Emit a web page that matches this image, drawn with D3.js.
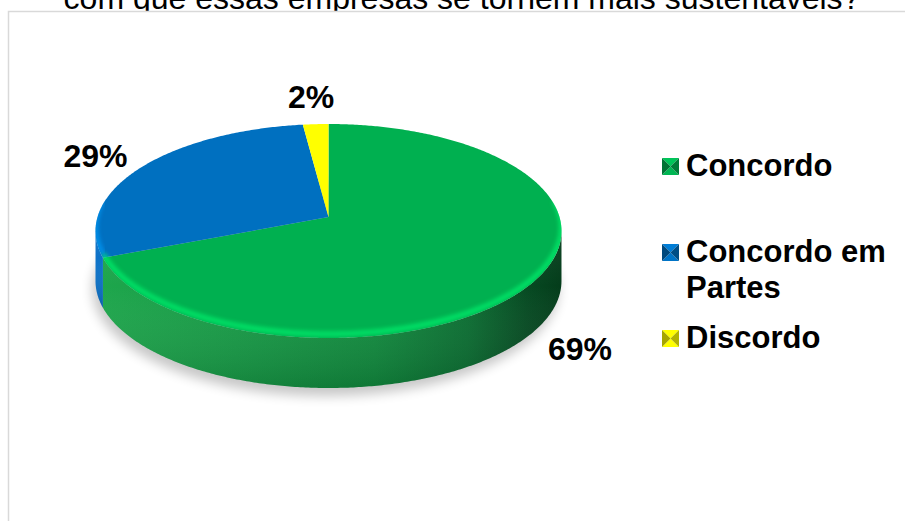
<!DOCTYPE html>
<html>
<head>
<meta charset="utf-8">
<script src="https://cdn.jsdelivr.net/npm/d3@7"></script>
<style>
  html, body { margin: 0; padding: 0; background: #fff; }
  svg { display: block; }
  text { font-family: "Liberation Sans", Arial, Helvetica, sans-serif; }
</style>
</head>
<body>
<svg id="chart" width="905" height="521"></svg>
<script>
// Survey answers
const categories = ["Concordo", "Concordo em Partes", "Discordo"];
const values = [69, 29, 2];
const valueLabels = ["69%", "29%", "2%"];
const legendLines = [["Concordo"], ["Concordo em", "Partes"], ["Discordo"]];
const colors = ["#00B050", "#0070C0", "#FFFF00"];
const sideStops = [
  ["#1ea64c", "#179a46", "#118a3e", "#0b6e32", "#064a22", "#043d1b"],
  ["#0c72c8", "#0a68b8", "#08589c", "#064a84", "#053b6a", "#04325a"],
  ["#e6e600", "#d4d400", "#b8b800", "#9a9a00", "#7a7a00", "#666600"]
];
const titleText = "com que essas empresas se tornem mais sustentáveis?";

const W = 905, H = 521;
const svg = d3.select("#chart");
const defs = svg.append("defs");

// title (partly hidden by the chart frame)
svg.append("text")
  .attr("x", 462).attr("y", 9)
  .attr("text-anchor", "middle")
  .attr("font-size", 32)
  .attr("fill", "#000")
  .text(titleText);

// chart frame
svg.append("rect")
  .attr("x", 8.5).attr("y", 11.5)
  .attr("width", 1000).attr("height", 1000)
  .attr("fill", "#fff")
  .attr("stroke", "#d9d9d9")
  .attr("stroke-width", 1.5);

// 3D pie geometry: a tilted disc with light perspective
const cx = 328.5, cy = 231, rx = 231, ry = 107, persp = -0.13, depth = 50;
function proj(a, z) {
  const u = Math.sin(a), v = -Math.cos(a);
  const w = 1 + persp * v;
  return [cx + rx * u / w, cy + ry * (v + persp) / w + (z || 0)];
}
function arcPts(a0, a1, z) {
  const n = Math.max(2, Math.ceil(Math.abs(a1 - a0) / 0.01));
  return d3.range(n + 1).map(i => proj(a0 + (a1 - a0) * i / n, z));
}
const centerPt = [cx, cy + ry * persp];
const line = d3.line();

const pie = d3.pie().sort(null).value(d => d)(values);

// visible front wall: between the right and left silhouette angles
const aVisL = Math.acos(persp);
const aVisR = 2 * Math.PI - Math.acos(persp);

// filters
const blur = defs.append("filter").attr("id", "shadowBlur")
  .attr("x", "-20%").attr("y", "-20%").attr("width", "140%").attr("height", "140%");
blur.append("feGaussianBlur").attr("stdDeviation", 6);
const soft = defs.append("filter").attr("id", "softBlur")
  .attr("x", "-20%").attr("y", "-20%").attr("width", "140%").attr("height", "140%");
soft.append("feGaussianBlur").attr("stdDeviation", 2.2);

// gradients for side walls
pie.forEach((d, i) => {
  const g = defs.append("linearGradient").attr("id", "side" + i)
    .attr("gradientUnits", "userSpaceOnUse")
    .attr("x1", cx - rx).attr("x2", cx + rx).attr("y1", 0).attr("y2", 0);
  const offs = [0, 0.3, 0.6, 0.8, 0.93, 1];
  offs.forEach((o, j) => g.append("stop").attr("offset", o).attr("stop-color", sideStops[i][j]));
});
const vg = defs.append("linearGradient").attr("id", "sideShade")
  .attr("x1", 0).attr("x2", 0).attr("y1", 0).attr("y2", 1);
vg.append("stop").attr("offset", 0).attr("stop-color", "#fff").attr("stop-opacity", 0.06);
vg.append("stop").attr("offset", 0.35).attr("stop-color", "#fff").attr("stop-opacity", 0);
vg.append("stop").attr("offset", 1).attr("stop-color", "#000").attr("stop-opacity", 0.14);

// clip to the top face
const fullTop = arcPts(0, 2 * Math.PI, 0);
defs.append("clipPath").attr("id", "topClip")
  .append("path").attr("d", line(fullTop) + "Z");

// drop shadow
const bottomOutline = arcPts(0, 2 * Math.PI, depth);
svg.append("path")
  .attr("d", line(bottomOutline) + "Z")
  .attr("transform", "translate(-3,8)")
  .attr("fill", "#000")
  .attr("opacity", 0.22)
  .attr("filter", "url(#shadowBlur)");

// side walls
const sides = svg.append("g");
pie.forEach((d, i) => {
  const s0 = Math.max(d.startAngle, aVisL), s1 = Math.min(d.endAngle, aVisR);
  if (s1 <= s0) return;
  const pts = arcPts(s0, s1, 0).concat(arcPts(s1, s0, depth));
  const p = line(pts) + "Z";
  sides.append("path").attr("d", p).attr("fill", `url(#side${i})`);
  sides.append("path").attr("d", p).attr("fill", "url(#sideShade)");
});

// top faces
const tops = svg.append("g");
pie.forEach((d, i) => {
  const pts = [centerPt].concat(arcPts(d.startAngle, d.endAngle, 0));
  tops.append("path").attr("d", line(pts) + "Z").attr("fill", colors[i]);
});

// rounded-edge highlight along the front rim
const rim = svg.append("g").attr("clip-path", "url(#topClip)");
pie.forEach((d, i) => {
  const s0 = Math.max(d.startAngle, aVisL - 0.25), s1 = Math.min(d.endAngle, aVisR + 0.25);
  if (s1 <= s0) return;
  rim.append("path")
    .attr("d", line(arcPts(s0, s1, -4)))
    .attr("fill", "none")
    .attr("stroke", d3.color(colors[i]).brighter(1.0))
    .attr("stroke-width", 5)
    .attr("opacity", 0.7)
    .attr("filter", "url(#softBlur)");
});

// data labels
const labelPos = [[580, 360], [95.5, 167], [311, 108]];
svg.append("g").selectAll("text").data(pie).join("text")
  .attr("x", (d, i) => labelPos[i][0])
  .attr("y", (d, i) => labelPos[i][1])
  .attr("text-anchor", "middle")
  .attr("font-size", 32)
  .attr("font-weight", "bold")
  .attr("fill", "#000")
  .text((d, i) => valueLabels[i]);

// legend
const legend = svg.append("g");
const mk = 17;
categories.forEach((c, i) => {
  const base = 176 + 86 * i;
  const x0 = 662, y0 = base - 18;
  const col = d3.color(colors[i]);
  const g = legend.append("g");
  const cxm = x0 + mk / 2, cym = y0 + mk / 2;
  const tri = (pts, fill) => g.append("path").attr("d", line(pts) + "Z").attr("fill", fill);
  tri([[x0, y0], [x0 + mk, y0], [cxm, cym]], col.brighter(0.3));
  tri([[x0, y0 + mk], [x0 + mk, y0 + mk], [cxm, cym]], col.brighter(0.1));
  tri([[x0, y0], [x0, y0 + mk], [cxm, cym]], col.darker(1.2));
  tri([[x0 + mk, y0], [x0 + mk, y0 + mk], [cxm, cym]], col.darker(1.0));
  legendLines[i].forEach((ln, j) => {
    legend.append("text")
      .attr("x", 686).attr("y", base + 36 * j)
      .attr("font-size", 31)
      .attr("font-weight", "bold")
      .attr("fill", "#000")
      .text(ln);
  });
});
</script>
</body>
</html>
